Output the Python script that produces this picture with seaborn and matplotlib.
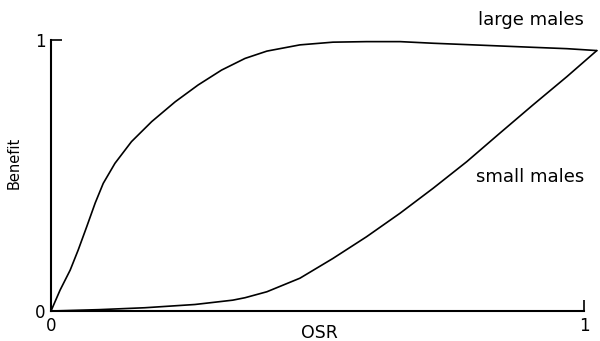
import matplotlib
matplotlib.use("Agg")
import matplotlib.pyplot as plt
import seaborn as sns
import pandas as pd

# Benefit curves against operational sex ratio (OSR)
osr_large = [0.0, 0.017, 0.036, 0.051, 0.067, 0.083, 0.098, 0.120, 0.151,
             0.189, 0.233, 0.276, 0.320, 0.364, 0.405, 0.467, 0.529, 0.592,
             0.655, 0.717, 0.780, 0.842, 0.904, 0.968, 1.024]
benefit_large = [0.0, 0.077, 0.151, 0.225, 0.311, 0.399, 0.471, 0.545, 0.625,
                 0.699, 0.772, 0.834, 0.889, 0.932, 0.959, 0.982, 0.992, 0.994,
                 0.994, 0.988, 0.983, 0.978, 0.973, 0.968, 0.961]

osr_small = [0.0, 0.090, 0.176, 0.270, 0.341, 0.364, 0.405, 0.467, 0.529,
             0.592, 0.655, 0.717, 0.780, 0.842, 0.904, 0.968, 1.024]
benefit_small = [0.0, 0.005, 0.012, 0.024, 0.040, 0.049, 0.071, 0.121, 0.194,
                 0.274, 0.361, 0.453, 0.551, 0.656, 0.760, 0.865, 0.961]

tick_values = [0, 1]
tick_labels = ["0", "1"]

sns.set_theme(style="white")
plt.rcParams["font.family"] = ["DejaVu Sans"]

fig = plt.figure(figsize=(6.0, 3.41), dpi=100)
ax = fig.add_axes([51 / 600, 30 / 341, 549 / 600, 271 / 341])

large = pd.DataFrame({"OSR": osr_large, "Benefit": benefit_large})
small = pd.DataFrame({"OSR": osr_small, "Benefit": benefit_small})
sns.lineplot(data=large, x="OSR", y="Benefit", color="black", linewidth=1.2,
             ax=ax, clip_on=False)
sns.lineplot(data=small, x="OSR", y="Benefit", color="black", linewidth=1.2,
             ax=ax, clip_on=False)

ax.set_xlim(0, 1.03)
ax.set_ylim(0, 1)

for side in ("top", "right"):
    ax.spines[side].set_visible(False)
for side in ("left", "bottom"):
    ax.spines[side].set_color("black")
    ax.spines[side].set_linewidth(1.5)
ax.spines["bottom"].set_bounds(0, 1)
ax.spines["left"].set_bounds(0, 1)

ax.set_xticks(tick_values)
ax.set_xticklabels(tick_labels)
ax.set_yticks(tick_values)
ax.set_yticklabels(tick_labels)
ax.tick_params(axis="both", direction="in", length=8, width=1.2,
               color="black", labelsize=12, labelcolor="black",
               bottom=True, left=True)
ax.tick_params(axis="x", pad=4)
ax.tick_params(axis="y", pad=4)

ax.set_xlabel("OSR", fontsize=12.5, color="black")
ax.xaxis.set_label_coords(268 / 549, -0.048)
ax.set_ylabel("Benefit", fontsize=10.5, color="black")
ax.yaxis.set_label_coords(-0.054, 0.546)

ax.text(1.0, 1.074, "large males", ha="right", va="center", fontsize=13,
        color="black", clip_on=False)
ax.text(1.0, 0.494, "small males", ha="right", va="center", fontsize=13,
        color="black")

fig.savefig("out.png", dpi=100, facecolor="white")
